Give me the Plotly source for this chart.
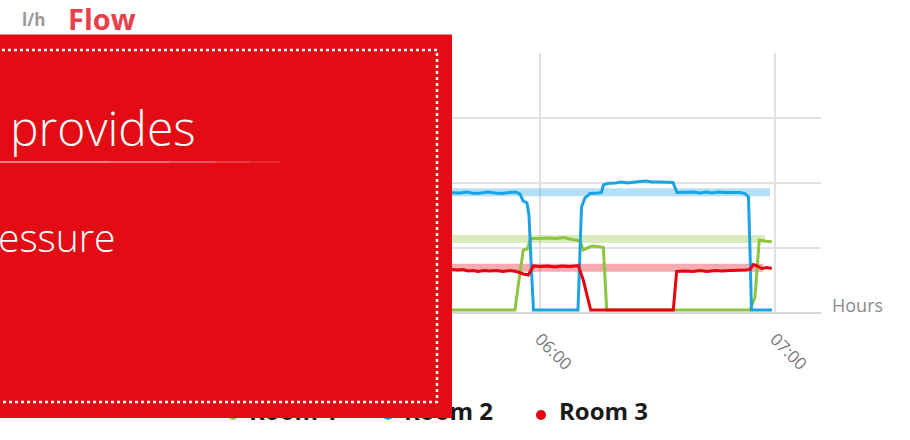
import pandas as pd
import plotly.graph_objects as go

# ---- data -------------------------------------------------------------
DAY = "2015-03-02 "
series_names = ["Room 1", "Room 2", "Room 3"]
series_colors = ["#8CC63F", "#1BA3E6", "#E8000F"]
band_colors = ["#8CC63F", "#1BA3E6", "#E8000F"]

room1_time = ["05:35:00", "05:53:37", "05:54:38", "05:55:44", "05:56:46", "05:57:38",
              "06:00:00", "06:02:03", "06:04:05", "06:06:08", "06:07:09", "06:08:56",
              "06:10:13", "06:11:03", "06:12:00", "06:13:12", "06:14:33", "06:16:10",
              "06:17:02", "06:53:37", "06:54:54", "06:55:59", "06:57:27", "06:59:10"]
room1_flow = [2.3, 2.3, 25.4, 48.5, 49.2, 57.3, 57.3, 57.7, 57.3, 58.1, 57.3, 56.5,
              55.4, 48.5, 50.0, 51.5, 51.2, 50.5, 2.3, 2.3, 12.3, 56.2, 55.4, 54.8]

room2_time = ["05:35:00", "05:39:34", "05:41:22", "05:43:09", "05:44:56", "05:46:43",
              "05:48:31", "05:50:18", "05:52:05", "05:53:52", "05:54:54", "05:55:40",
              "05:56:41", "05:57:11", "05:57:42", "05:58:20", "06:09:42", "06:10:13",
              "06:10:36", "06:11:29", "06:12:46", "06:14:49", "06:15:42", "06:16:13",
              "06:17:06", "06:19:09", "06:20:56", "06:22:13", "06:23:45", "06:25:32",
              "06:27:04", "06:28:36", "06:30:38", "06:32:41", "06:33:58", "06:34:59",
              "06:37:01", "06:39:04", "06:40:51", "06:42:23", "06:43:55", "06:45:27",
              "06:47:14", "06:49:01", "06:51:04", "06:52:20", "06:53:14", "06:53:37",
              "06:54:00", "06:59:14"]
room2_flow = [92.7, 92.3, 93.1, 91.9, 92.3, 93.1, 92.3, 91.9, 92.7, 93.1, 91.5, 86.2,
              84.6, 75.4, 40.8, 2.3, 2.3, 48.5, 81.5, 88.5, 91.9, 92.3, 92.7, 98.5,
              99.6, 100.0, 100.8, 100.0, 100.8, 101.2, 101.5, 100.8, 100.8, 100.8, 100.4, 92.7,
              92.7, 93.1, 92.3, 93.1, 92.3, 93.1, 92.7, 92.7, 92.7, 91.9, 89.2, 48.5,
              2.3, 2.3]

room3_time = ["05:35:00", "05:39:04", "05:40:20", "05:41:37", "05:42:53", "05:44:10",
              "05:45:42", "05:47:14", "05:48:46", "05:50:33", "05:52:20", "05:54:03",
              "05:55:44", "05:57:01", "05:58:17", "06:00:00", "06:02:03", "06:03:50",
              "06:05:37", "06:07:40", "06:09:47", "06:11:03", "06:12:00", "06:12:57",
              "06:34:02", "06:34:54", "06:37:01", "06:39:04", "06:40:51", "06:42:38",
              "06:44:41", "06:46:28", "06:48:31", "06:50:33", "06:52:20", "06:53:37",
              "06:54:28", "06:55:24", "06:56:41", "06:57:57", "06:59:10"]
room3_flow = [34.2, 33.1, 33.5, 32.3, 32.7, 31.9, 32.7, 32.3, 32.7, 31.9, 32.7, 31.9,
              30.0, 29.2, 36.2, 35.8, 36.2, 35.4, 36.2, 35.8, 36.5, 25.4, 13.8, 2.3,
              2.3, 31.9, 32.3, 31.9, 32.7, 31.9, 32.7, 32.3, 32.7, 32.7, 33.1, 33.5,
              37.3, 36.2, 34.2, 35.0, 34.2]

# target flow per room (drawn as wide translucent bands)
setpoint_flow = [56.9, 92.8, 34.8]
setpoint_start = ["05:35:00", "05:35:00", "05:35:00"]
setpoint_end = ["06:57:27", "06:58:43", "06:57:00"]

x_range = ["04:00:00", "07:11:45"]
y_range = [0, 200]

times = [room1_time, room2_time, room3_time]
flows = [room1_flow, room2_flow, room3_flow]


def ts(values):
    return pd.to_datetime([DAY + v for v in values])


FONT = "Open Sans, Noto Sans, sans-serif"
W, H = 910, 440

fig = go.Figure()

# setpoint bands
for i in range(3):
    fig.add_trace(go.Scatter(
        x=ts([setpoint_start[i], setpoint_end[i]]),
        y=[setpoint_flow[i], setpoint_flow[i]],
        mode="lines", line=dict(color=band_colors[i], width=8),
        opacity=0.33, showlegend=False, hoverinfo="skip"))

# measured flow
for i in range(3):
    fig.add_trace(go.Scatter(
        x=ts(times[i]), y=flows[i], name=series_names[i],
        mode="lines", line=dict(color=series_colors[i], width=3),
        showlegend=False))

# legend row, drawn on a full-page pixel axis so the panel can sit over it
legend_dot_x = [233, 388, 541]
legend_text_x = [249, 404, 559]
fig.add_trace(go.Scatter(
    x=legend_dot_x, y=[415, 415, 415], xaxis="x2", yaxis="y2",
    mode="markers", marker=dict(color=series_colors, size=10),
    showlegend=False, hoverinfo="skip"))
fig.add_trace(go.Scatter(
    x=legend_text_x, y=[414, 414, 414], xaxis="x2", yaxis="y2",
    mode="text", text=series_names, textposition="middle right",
    textfont=dict(family=FONT, size=24, color="#1a1a1a", weight=700),
    showlegend=False, hoverinfo="skip"))

grid = "#e1e1e1"
fig.update_layout(
    width=W, height=H, autosize=False,
    margin=dict(l=0, r=0, t=0, b=0, autoexpand=False),
    paper_bgcolor="white", plot_bgcolor="rgba(0,0,0,0)",
    font=dict(family=FONT),
    xaxis=dict(
        domain=[70 / W, 821 / W], anchor="y",
        type="date", range=[DAY + x_range[0], DAY + x_range[1]],
        tick0=DAY + "04:00:00", dtick=3600000, tickformat="%H:%M",
        tickangle=45, tickfont=dict(size=17, color="#7a7a7a"),
        ticklabelstandoff=12,
        showgrid=True, gridcolor=grid, gridwidth=1.5,
        zeroline=False, showline=False, ticks="", automargin=False,
    ),
    yaxis=dict(
        domain=[127 / H, 387 / H], anchor="x",
        range=y_range, dtick=50, showticklabels=False,
        showgrid=True, gridcolor=grid, gridwidth=1.5,
        zeroline=True, zerolinecolor="#d6d6d6", zerolinewidth=1.5,
        showline=False, ticks="", automargin=False,
    ),
    xaxis2=dict(domain=[0, 1], range=[0, W], visible=False, anchor="y2",
                automargin=False),
    yaxis2=dict(domain=[0, 1], range=[H, 0], visible=False, anchor="x2",
                automargin=False),
)

# red info panel with dotted inner frame
shapes = [
    dict(type="rect", xref="x2", yref="y2", x0=-10, x1=452, y0=34.5, y1=418,
         fillcolor="#E30B14", line=dict(width=0), layer="above"),
    dict(type="rect", xref="x2", yref="y2", x0=-10, x1=437, y0=50, y1=402,
         fillcolor="rgba(0,0,0,0)", line=dict(color="white", width=2.5, dash="dot"),
         layer="above"),
]
# fading rule under the heading
for x0, x1, op in [(-5, 110, 0.95), (110, 170, 0.8), (170, 215, 0.6),
                   (215, 250, 0.4), (250, 280, 0.2)]:
    shapes.append(dict(type="line", xref="x2", yref="y2", x0=x0, x1=x1, y0=162, y1=162,
                       line=dict(color="white", width=1.2), opacity=op, layer="above"))
fig.update_layout(shapes=shapes)

annotations = [
    dict(text="provides", x=8, y=127, font=dict(size=48, color="white", weight=300)),
    dict(text="essure", x=0, xshift=-4, y=236, font=dict(size=39, color="white", weight=300)),
    dict(text="l/h", x=20, y=19, font=dict(size=17, color="#9a9a9a", weight=700)),
    dict(text="Flow", x=66, y=18, font=dict(size=29, color="#E8414C", weight=700)),
    dict(text="Hours", x=830, y=305, font=dict(size=18, color="#8a8a8a")),
]
for a in annotations:
    a.update(xref="x2", yref="y2", xanchor="left", yanchor="middle", showarrow=False)
fig.update_layout(annotations=annotations)

fig.write_html(
    "out.html",
    config={"responsive": False},
    post_script="document.body.style.margin='0';",
)
